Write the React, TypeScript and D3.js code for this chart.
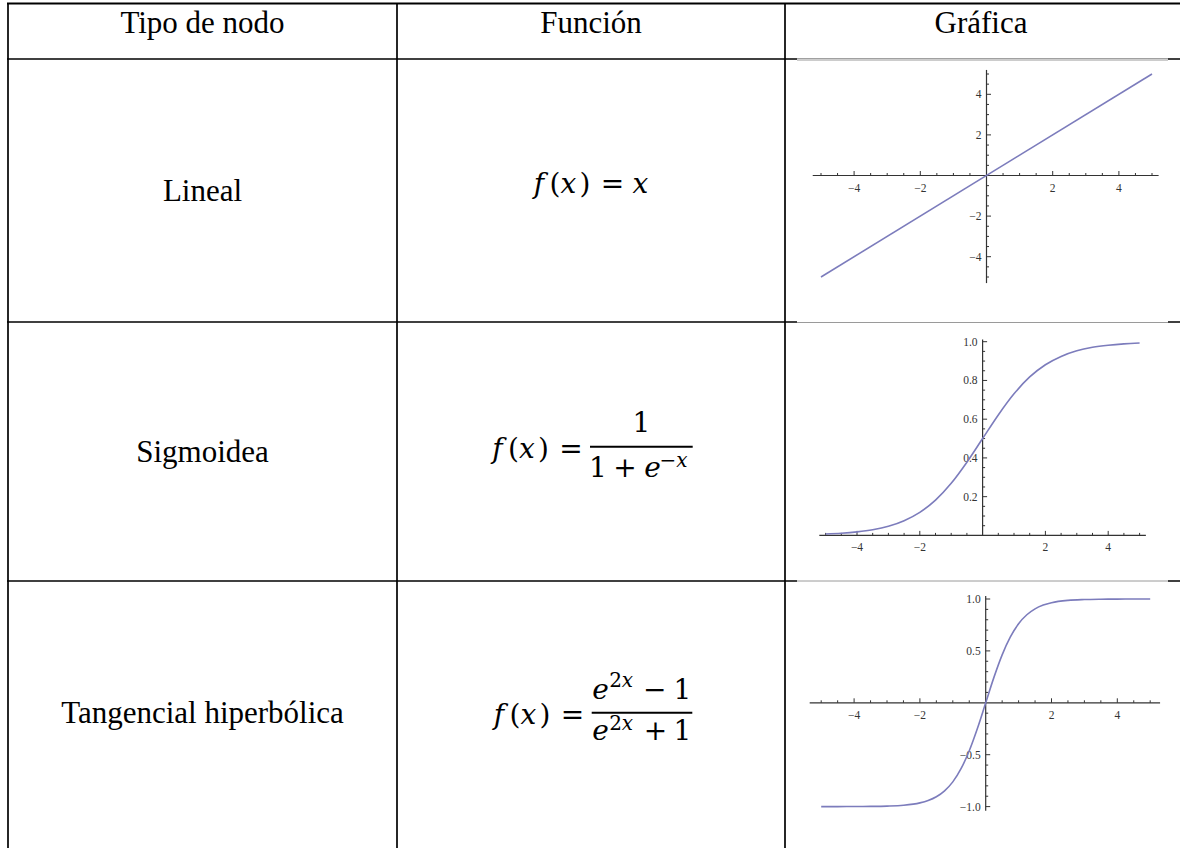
import React from "react";
import * as d3 from "d3";

// table text
const columnHeaders = ["Tipo de nodo", "Función", "Gráfica"];
const nodeTypes = ["Lineal", "Sigmoidea", "Tangencial hiperbólica"];

// tick labels of the three small plots
const xTickValues = [-4, -2, 2, 4];
const linearYTicks = [-4, -2, 2, 4];
const sigmoidYTicks = [0.2, 0.4, 0.6, 0.8, 1.0];
const tanhYTicks = [-1.0, -0.5, 0.5, 1.0];

// curve points
const linearX = [-5, 5];
const linearY = [-5, 5];

const sigmoidX = [-5, -4.5, -4, -3.5, -3, -2.5, -2, -1.5, -1, -0.5, 0, 0.5, 1, 1.5, 2, 2.5, 3, 3.5, 4, 4.5, 5];
const sigmoidY = [0.007, 0.011, 0.018, 0.029, 0.047, 0.076, 0.119, 0.182, 0.269, 0.378, 0.5, 0.622, 0.731, 0.818, 0.881, 0.924, 0.953, 0.971, 0.982, 0.989, 0.993];

const tanhX = [-5, -4.5, -4, -3.5, -3, -2.5, -2, -1.75, -1.5, -1.25, -1, -0.75, -0.5, -0.25, 0, 0.25, 0.5, 0.75, 1, 1.25, 1.5, 1.75, 2, 2.5, 3, 3.5, 4, 4.5, 5];
const tanhY = [-1.0, -1.0, -0.999, -0.998, -0.995, -0.987, -0.964, -0.941, -0.905, -0.848, -0.762, -0.635, -0.462, -0.245, 0, 0.245, 0.462, 0.635, 0.762, 0.848, 0.905, 0.941, 0.964, 0.987, 0.995, 0.998, 0.999, 1.0, 1.0];

const LINE = "#000";
const CURVE = "#7c7cbc";
const AXIS = "#333";
const SERIF = "'Liberation Serif', 'Times New Roman', serif";
const MATH = "'DejaVu Serif', serif";

// table grid
const colX = [8, 397, 785];
const rowY = [3.5, 59, 322, 581];

type PlotCfg = {
  top: number;
  bottom: number;
  xRange: [number, number];
  yDomain: [number, number];
  yRange: [number, number];
  xAxisExt: [number, number];
  yAxisExt: [number, number];
  yTicks: number[];
  fmt: (n: number) => string;
  xs: number[];
  ys: number[];
};

const plots: PlotCfg[] = [
  {
    top: 60, bottom: 321,
    xRange: [821, 1152], yDomain: [-5, 5], yRange: [277, 74],
    xAxisExt: [-5.25, 5.2], yAxisExt: [-5.3, 5.2],
    yTicks: linearYTicks, fmt: d3.format("d"),
    xs: linearX, ys: linearY,
  },
  {
    top: 322.5, bottom: 580,
    xRange: [825.6, 1139.6], yDomain: [0, 1], yRange: [535.4, 341.7],
    xAxisExt: [-5.2, 5.2], yAxisExt: [0, 1.012],
    yTicks: sigmoidYTicks, fmt: d3.format(".1f"),
    xs: sigmoidX, ys: sigmoidY,
  },
  {
    top: 581, bottom: 848,
    xRange: [821.2, 1150.2], yDomain: [-1, 1], yRange: [806.6, 599],
    xAxisExt: [-5.35, 5.3], yAxisExt: [-1.04, 1.03],
    yTicks: tanhYTicks, fmt: d3.format(".1f"),
    xs: tanhX, ys: tanhY,
  },
];

function MiniPlot({ cfg }: { cfg: PlotCfg }) {
  const x = d3.scaleLinear().domain([-5, 5]).range(cfg.xRange);
  const y = d3.scaleLinear().domain(cfg.yDomain).range(cfg.yRange);
  const x0 = x(0);
  const y0 = y(0);
  const line = d3
    .line<number>()
    .x((_, i) => x(cfg.xs[i]))
    .y((d) => y(d))
    .curve(d3.curveMonotoneX);

  const xMinor = x.ticks(20).filter((t) => t !== 0);
  const yMinor = y.ticks(20).filter((t) => Math.abs(t) > 1e-9);

  return (
    <g>
      <rect x={797} y={cfg.top - 1.5} width={371} height={cfg.bottom - cfg.top + 1.5} fill="#fff" />
      <line x1={797} x2={1168} y1={cfg.top} y2={cfg.top} stroke="#9a9a9a" strokeWidth={1} />

      {/* axes */}
      <line x1={x(cfg.xAxisExt[0])} x2={x(cfg.xAxisExt[1])} y1={y0} y2={y0} stroke={AXIS} strokeWidth={1.2} />
      <line x1={x0} x2={x0} y1={y(cfg.yAxisExt[0])} y2={y(cfg.yAxisExt[1])} stroke={AXIS} strokeWidth={1.2} />

      {xMinor.map((t) => {
        const major = xTickValues.includes(t);
        return (
          <line key={"xt" + t} x1={x(t)} x2={x(t)} y1={y0} y2={y0 - (major ? 4.5 : 2.5)} stroke={AXIS} strokeWidth={1} />
        );
      })}
      {yMinor.map((t) => {
        const major = cfg.yTicks.some((v) => Math.abs(v - t) < 1e-9);
        return (
          <line key={"yt" + t} x1={x0} x2={x0 + (major ? 4.5 : 2.5)} y1={y(t)} y2={y(t)} stroke={AXIS} strokeWidth={1} />
        );
      })}

      {xTickValues.map((t) => (
        <text key={"xl" + t} x={x(t)} y={y0 + 16} textAnchor="middle" fontFamily={SERIF} fontSize={11.5} fill="#333">
          {d3.format("d")(t)}
        </text>
      ))}
      {cfg.yTicks.map((t) => (
        <text key={"yl" + t} x={x0 - 5} y={y(t) + 4} textAnchor="end" fontFamily={SERIF} fontSize={11.5} fill="#333">
          {cfg.fmt(t)}
        </text>
      ))}

      <path d={line(cfg.ys) || ""} fill="none" stroke={CURVE} strokeWidth={1.6} />
    </g>
  );
}

// one math glyph, centred on cx
function G({ cx, y, i, s, children }: { cx: number; y: number; i?: boolean; s?: number; children: React.ReactNode }) {
  return (
    <text x={cx} y={y} fontFamily={MATH} fontStyle={i ? "italic" : "normal"} fontSize={s || 28} textAnchor="middle" fill="#000">
      {children}
    </text>
  );
}

// "f(x) =" with the glyph centres measured from the document
function FofX({ dx, y }: { dx: number; y: number }) {
  return (
    <g>
      <G cx={539 + dx} y={y} i>f</G>
      <G cx={555 + dx} y={y}>(</G>
      <G cx={568.3 + dx} y={y} i>x</G>
      <G cx={585 + dx} y={y}>)</G>
      <G cx={612.5 + dx} y={y}>=</G>
    </g>
  );
}

export default function App() {
  const rowMid = [190.5, 451.5, 713];
  const SUP = 20;
  return (
    <svg
      width={1180}
      height={848}
      viewBox="0 0 1180 848"
      style={{ position: "absolute", left: 0, top: 0, background: "#fff" }}
    >
      <rect width={1180} height={848} fill="#fff" />

      {/* grid */}
      {rowY.map((ry, k) => (
        <line key={"r" + k} x1={colX[0] - 1} x2={1180} y1={ry} y2={ry} stroke={LINE} strokeWidth={k === 0 ? 2 : 1.7} />
      ))}
      {colX.map((cx, k) => (
        <line key={"c" + k} x1={cx} x2={cx} y1={rowY[0]} y2={848} stroke={LINE} strokeWidth={1.7} />
      ))}

      {/* headers */}
      {columnHeaders.map((h, k) => (
        <text key={h} x={k < 2 ? (colX[k] + colX[k + 1]) / 2 : 981} y={33} textAnchor="middle" fontFamily={SERIF} fontSize={31} fill="#000">
          {h}
        </text>
      ))}

      {/* node type labels */}
      {nodeTypes.map((n, k) => (
        <text key={n} x={(colX[0] + colX[1]) / 2} y={rowMid[k] + 10} textAnchor="middle" fontFamily={SERIF} fontSize={31} fill="#000">
          {n}
        </text>
      ))}

      {/* f(x) = x */}
      <FofX dx={0} y={193} />
      <G cx={640.5} y={193} i>x</G>

      {/* sigmoid */}
      <FofX dx={-41.5} y={458} />
      <line x1={590} x2={692.7} y1={446.7} y2={446.7} stroke="#000" strokeWidth={2} />
      <G cx={641.5} y={431.5}>1</G>
      <G cx={598} y={477}>1</G>
      <G cx={625} y={477}>+</G>
      <G cx={652.5} y={477} i>e</G>
      <G cx={668} y={466.5} s={SUP}>−</G>
      <G cx={682} y={466.5} s={SUP} i>x</G>

      {/* tanh */}
      <FofX dx={-40} y={724} />
      <line x1={591.7} x2={692.3} y1={712.7} y2={712.7} stroke="#000" strokeWidth={2} />
      <G cx={600.5} y={699} i>e</G>
      <G cx={615.5} y={686.5} s={SUP}>2</G>
      <G cx={627.5} y={686.5} s={SUP} i>x</G>
      <G cx={654.7} y={699}>−</G>
      <G cx={682.5} y={699}>1</G>
      <G cx={600.5} y={740} i>e</G>
      <G cx={615.5} y={730} s={SUP}>2</G>
      <G cx={627.5} y={730} s={SUP} i>x</G>
      <G cx={655.5} y={740}>+</G>
      <G cx={682.5} y={740}>1</G>

      {/* plots */}
      {plots.map((p, k) => (
        <MiniPlot key={k} cfg={p} />
      ))}
    </svg>
  );
}
